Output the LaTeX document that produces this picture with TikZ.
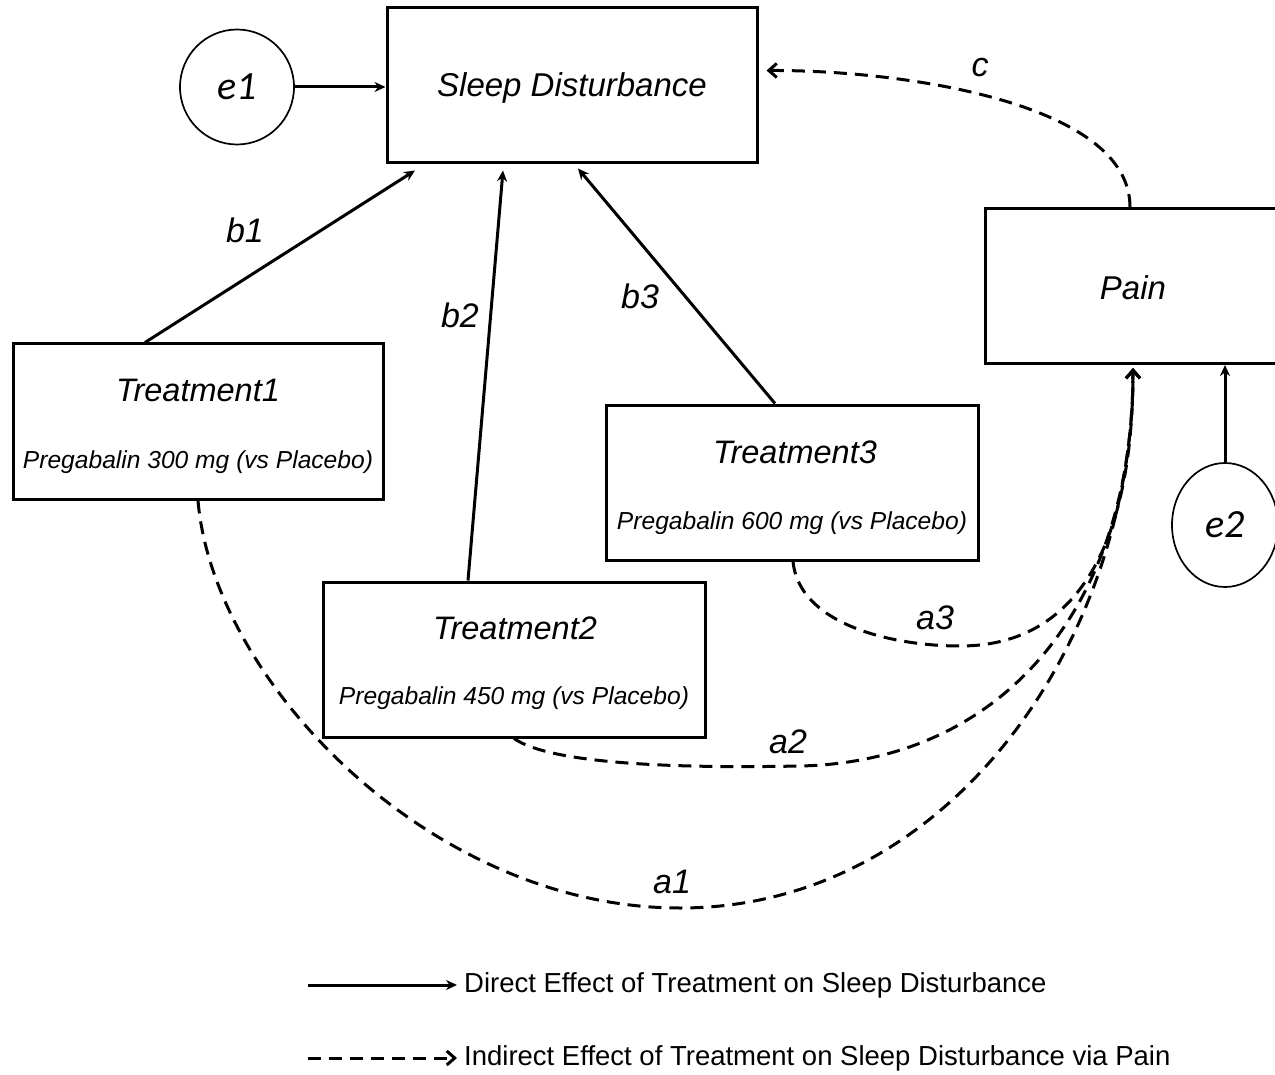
\documentclass[tikz,border=0pt]{standalone}
\usepackage{fontspec}
\setmainfont{Liberation Sans}
\newfontfamily\calib{Carlito}
\usetikzlibrary{arrows.meta,shapes.geometric}
\begin{document}
\begin{tikzpicture}[x=1pt,y=-1pt,
  box/.style={draw,line width=3pt,minimum width=#1,minimum height=155pt,inner sep=0pt,anchor=center},
  errc/.style={draw,line width=1.7pt,ellipse,inner sep=0pt},
  big/.style={font=\fontsize{33}{36}\selectfont\itshape},
  ttl/.style={font=\fontsize{32.5}{35}\selectfont\itshape},
  sub/.style={font=\fontsize{24.6}{27}\selectfont\itshape},
  lbl/.style={font=\fontsize{34}{37}\selectfont\itshape},
  err/.style={font=\fontsize{40}{43}\selectfont\calib\itshape},
  leg/.style={font=\fontsize{27.5}{30}\selectfont,anchor=west,inner sep=0pt},
  direct/.style={line width=3pt,-{Stealth[length=11pt,width=10pt]}},
  indirect/.style={line width=3pt,dash pattern=on 13pt off 8pt,-{Straight Barb[length=8pt,width=14pt,line width=3pt]}}
]
\useasboundingbox (0,0) rectangle (1275,1075);
\clip (0,0) rectangle (1275,1075);

% boxes
\node[box=370pt] (sleep) at (572,85.5) {};
\node[big] (sleeptxt) at (572,88) {Sleep Disturbance};
\node[box=296pt] (pain) at (1133,286) {};
\node[big] (paintxt) at (1133,288) {Pain};

\node[box=370pt] (t1) at (198,421.5) {};
\node[ttl] (t1ttl) at (198,390) {Treatment1};
\node[sub] (t1sub) at (198,462) {Pregabalin 300 mg (vs Placebo)};

\node[box=382pt] (t2) at (514,659.5) {};
\node[ttl] (t2ttl) at (515,628) {Treatment2};
\node[sub] (t2sub) at (514,698) {Pregabalin 450 mg (vs Placebo)};

\node[box=372pt] (t3) at (792,482.5) {};
\node[ttl] (t3ttl) at (795,452) {Treatment3};
\node[sub] (t3sub) at (792,523) {Pregabalin 600 mg (vs Placebo)};

% error terms
\node[errc,minimum width=114pt,minimum height=115pt] (e1) at (237,87) {};
\node[err] (e1txt) at (237,87) {e1};
\node[errc,minimum width=106pt,minimum height=124pt] (e2) at (1225,525) {};
\node[err] (e2txt) at (1225,525) {e2};

\draw[direct] (e1.east) -- (sleep.west |- e1.east);
\draw[direct] (e2.north) -- (e2.north |- pain.south);

% direct effects
\draw[direct] ([xshift=-53pt]t1.north) -- ([xshift=-157pt,yshift=-6pt]sleep.south);
\draw[direct] ([xshift=-46pt]t2.north) -- ([xshift=-69pt,yshift=-6pt]sleep.south);
\draw[direct] ([xshift=-17pt]t3.north) -- ([xshift=6pt,yshift=-4pt]sleep.south);
\node[lbl] (b1) at (245,230) {b1};
\node[lbl] (b2) at (460,315) {b2};
\node[lbl] (b3) at (640,296) {b3};

% indirect effects via pain
\coordinate (pin) at ([yshift=-3pt]pain.south);
\draw[indirect] (t1.south) .. controls +(15,180) and (430,908) .. (680,908)
   .. controls (950,908) and (1133,640) .. (pin);
\draw[indirect] (t2.south) .. controls +(40,28) and (700,768) .. (800,766)
   .. controls (1000,762) and (1133,610) .. (pin);
\draw[indirect] ([xshift=1pt]t3.south) .. controls +(6,62) and (890,646) .. (960,646)
   .. controls (1080,646) and (1133,540) .. (pin);
\draw[indirect] ([xshift=-3pt]pain.north) .. controls +(0,-105) and (900,70) .. ([xshift=8pt,yshift=15pt]sleep.east);
\node[lbl] (a1) at (672,882) {a1};
\node[lbl] (a2) at (788,742) {a2};
\node[lbl] (a3) at (935,618) {a3};
\node[lbl] (c) at (980,68) {c};

% legend
\node[leg] (ldir) at (464,985) {Direct Effect of Treatment on Sleep Disturbance};
\node[leg] (lind) at (464,1058) {Indirect Effect of Treatment on Sleep Disturbance via Pain};
\coordinate (ldirs) at (308,985);
\coordinate (linds) at (308,1058);
\draw[direct] (ldirs) -- ([xshift=-7pt]ldir.west);
\draw[indirect] (linds) -- ([xshift=-7pt]lind.west);
\end{tikzpicture}
\end{document}
